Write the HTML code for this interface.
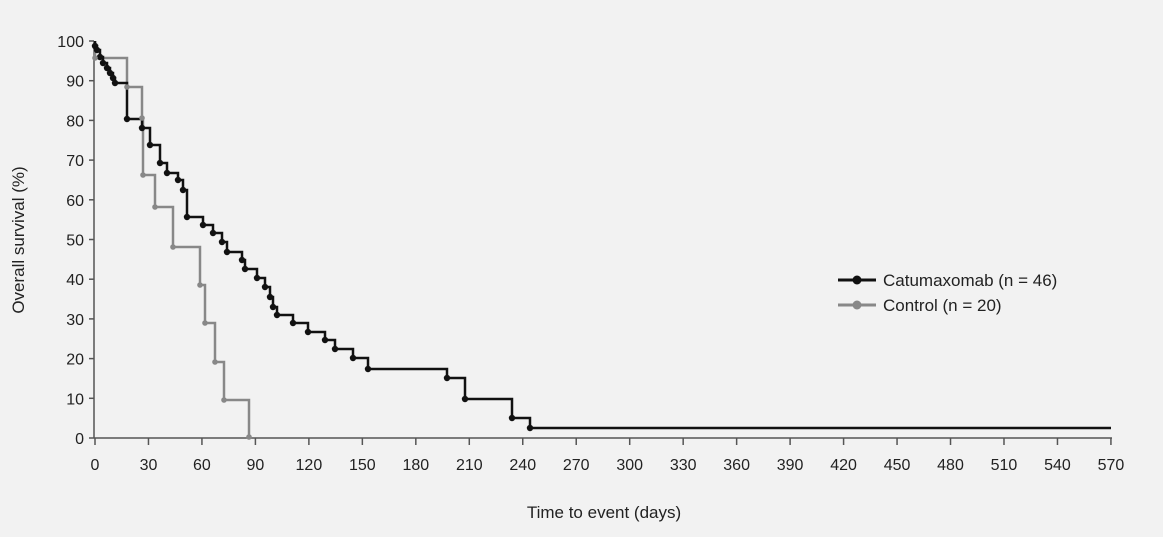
<!DOCTYPE html><html><head><style>body{margin:0;background:#f2f2f2}svg{display:block}text{font-family:"Liberation Sans",sans-serif;fill:#222}</style></head><body>
<svg width="1163" height="537" viewBox="0 0 1163 537">
<rect width="1163" height="537" fill="#f2f2f2"/>
<g stroke="#555" stroke-width="1.5" fill="none">
<line x1="94" y1="41" x2="94" y2="438"/><line x1="94" y1="438" x2="1112" y2="438"/>
</g>
<g id="yt" font-size="16" text-anchor="end"></g>
<g id="xt" font-size="16" text-anchor="middle"></g>
<text x="604" y="518" font-size="17" text-anchor="middle">Time to event (days)</text>
<text transform="translate(24,240) rotate(-90)" font-size="17" text-anchor="middle">Overall survival (%)</text>
<path id="g" fill="none" stroke="#888" stroke-width="2.5" d="M95,41V58H127V87H142V118H143V175H155V207H173V247H200V285H205V323H215V362H224V400H249V437"/>
<path id="b" fill="none" stroke="#111" stroke-width="2.5" d="M95,41V46H97V50H100V57H103V63H107V68H110V73H113V78H115V83H127V119H142V128H150V145H160V163H167V173H178V180H183V190H187V217H203V225H213V233H222V242H227V252H242V260H245V269H257V278H265V287H270V297H273V307H277V315H293V323H308V332H325V340H335V349H353V358H368V369H447V378H465V399H512V418H530V428H1111"/>
<g id="m"></g>
<line x1="838" y1="280" x2="876" y2="280" stroke="#111" stroke-width="3"/><circle cx="857" cy="280" r="4.5" fill="#111"/>
<text x="883" y="286" font-size="17">Catumaxomab (n = 46)</text>
<line x1="838" y1="305" x2="876" y2="305" stroke="#888" stroke-width="3"/><circle cx="857" cy="305" r="4.5" fill="#888"/>
<text x="883" y="311" font-size="17">Control (n = 20)</text>
</svg>
<script>
var ns="http://www.w3.org/2000/svg";function el(t,a,p,tx){var e=document.createElementNS(ns,t);for(var k in a)e.setAttribute(k,a[k]);if(tx!=null)e.textContent=tx;document.getElementById(p).appendChild(e);return e}
for(var i=0;i<=10;i++){var y=438-i*39.7;el("text",{x:84,y:y+6},"yt",i*10);el("line",{x1:89,y1:y,x2:94,y2:y,stroke:"#555","stroke-width":1.5},"yt")}
for(var i=0;i<=19;i++){var x=95+i*53.47;el("text",{x:x,y:470},"xt",i*30);el("line",{x1:x,y1:438,x2:x,y2:445,stroke:"#555","stroke-width":1.5},"xt")}
function marks(id,col,r){var d=document.getElementById(id).getAttribute("d").match(/[MVH][\d.]+(,[\d.]+)?/g);var x=0,y=0;d.forEach(function(s){var c=s[0],v=s.slice(1).split(",");if(c=="M"){x=+v[0];y=+v[1]}else if(c=="V"){y=+v[0];el("circle",{cx:x,cy:y,r:r,fill:col},"m")}else{x=+v[0]}})}
marks("b","#111",3.2);marks("g","#888",2.8);
</script>
</body></html>
